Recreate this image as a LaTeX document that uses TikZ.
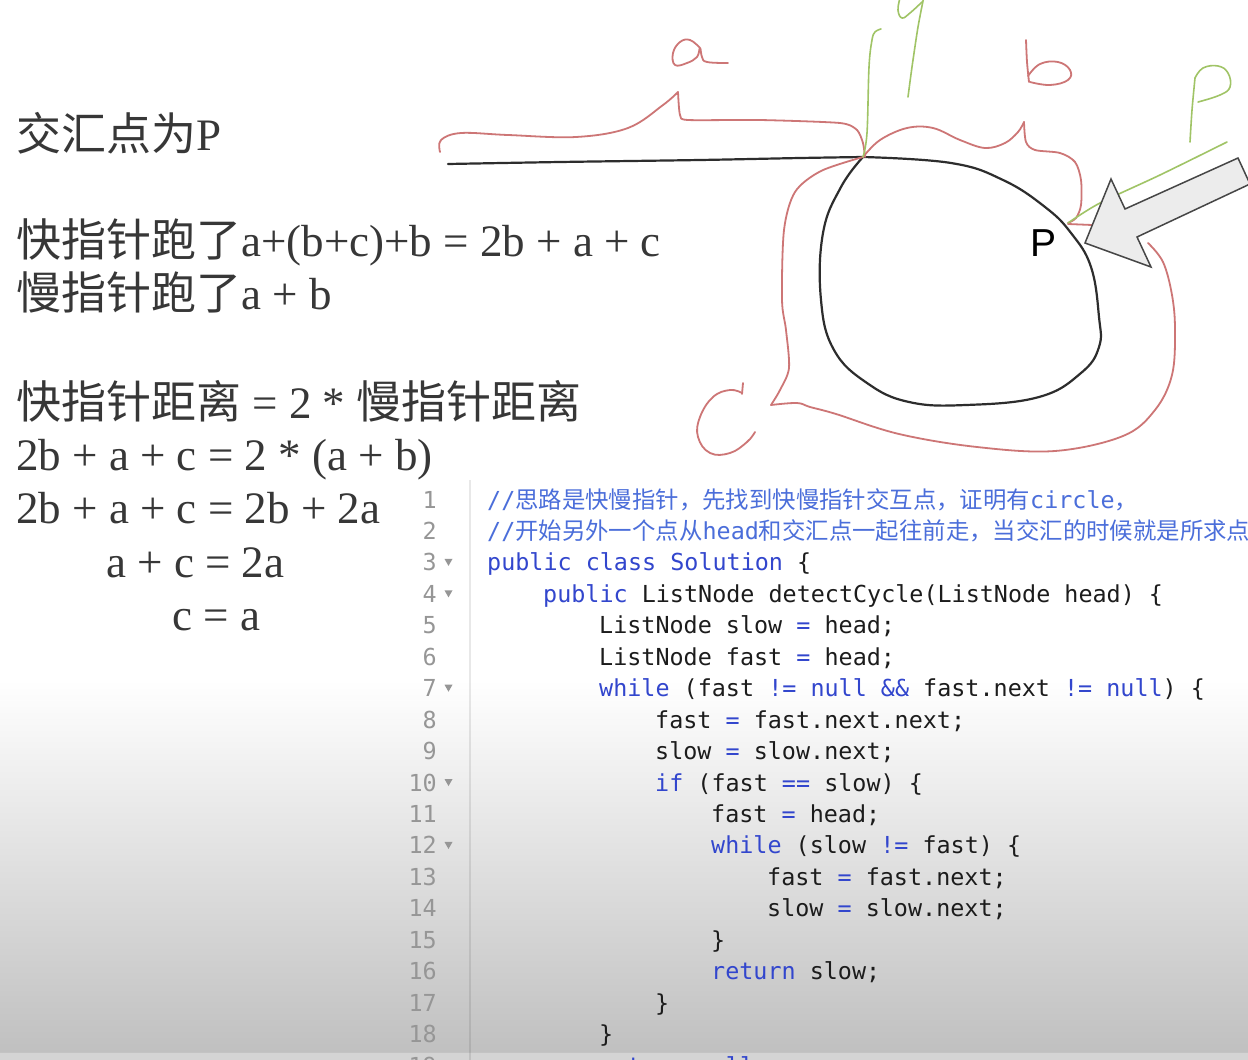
\documentclass[tikz,border=0pt]{standalone}
\usepackage{fontspec}
\setmainfont{Liberation Serif}
\newfontfamily\cjk{Noto Sans CJK SC}
\newfontfamily\codef{DejaVu Sans Mono}
\newfontfamily\sansf{Liberation Sans}
\definecolor{penred}{RGB}{205,118,118}
\definecolor{pengreen}{RGB}{160,196,102}
\definecolor{penblack}{RGB}{45,45,45}
\definecolor{arrowfill}{RGB}{236,236,236}
\definecolor{arrowdraw}{RGB}{70,70,70}
\definecolor{textgray}{RGB}{55,55,55}
\definecolor{codeblack}{RGB}{28,28,28}
\definecolor{kwblue}{RGB}{50,70,205}
\definecolor{cmtblue}{RGB}{75,110,218}
\definecolor{lngray}{RGB}{150,150,150}
\definecolor{bggray}{RGB}{192,192,192}
\definecolor{bandgray}{RGB}{212,212,212}
\newcommand{\kw}[1]{\textcolor{kwblue}{#1}}
\tikzset{
  redpen/.style={draw=penred, line width=1.8pt, line cap=round, line join=round},
  greenpen/.style={draw=pengreen, line width=1.6pt, line cap=round, line join=round},
  blackpen/.style={draw=penblack, line width=2.2pt, line cap=round, line join=round},
  lefttext/.style={anchor=base west, inner sep=0pt, text=textgray, font=\fontsize{45}{50}\selectfont},
  codeline/.style={anchor=base west, inner sep=0pt, text=codeblack, font=\codef\fontsize{23.4}{28}\selectfont},
  cmtline/.style={codeline, text=cmtblue},
  lnum/.style={anchor=base east, inner sep=0pt, text=lngray, font=\codef\fontsize{23.4}{28}\selectfont},
  fold/.style={fill=lngray, draw=none}
}
\begin{document}
\begin{tikzpicture}[x=1pt, y=-1pt]
\useasboundingbox (0,0) rectangle (1248,1060);
\clip (0,0) rectangle (1248,1060);
% background
\fill[white] (0,0) rectangle (1248,1060);
\shade[top color=white, bottom color=bggray, draw=none] (0,680) rectangle (1248,1052);
\fill[bandgray] (0,1052) rectangle (1248,1060);
\draw[black, opacity=0.08, line width=1pt] (0,1052) -- (1248,1052);
% gutter line
\draw[black, opacity=0.09, line width=1.5pt] (470,480) -- (470,1060);

% ---------- left text ----------
\node[lefttext] (t1) at (16,150) {{\cjk 交汇点为}P};
\node[lefttext] (t2) at (16,256) {{\cjk 快指针跑了}a+(b+c)+b = 2b + a + c};
\node[lefttext] (t3) at (16,309) {{\cjk 慢指针跑了}a + b};
\node[lefttext] (t4) at (16,418) {{\cjk 快指针距离} = 2 * {\cjk 慢指针距离}};
\node[lefttext] (t5) at (16,470) {2b + a + c = 2 * (a + b)};
\node[lefttext] (t6) at (16,523) {2b + a + c = 2b + 2a};
\node[lefttext] (t7) at (106,577) {a + c = 2a};
\node[lefttext] (t8) at (172,630) {c = a};

% ---------- hand drawing ----------
% black list line and loop
\draw[blackpen] plot[smooth] coordinates {(448,164) (560,162) (700,160) (800,158) (863,157)};
\draw[blackpen] plot[smooth, tension=0.7] coordinates {(863,157) (951,163) (1003,180) (1045,207) (1071,233) (1091,267) (1099,317) (1099,347) (1081,373) (1039,397) (966,405) (909,402) (867,383) (834,350) (821,300) (823,233) (841,187) (863,157)};
% red brace a
\draw[redpen] plot[smooth, tension=0.6] coordinates {(440,152) (441,140) (461,133) (508,135) (576,137) (628,128) (663,105) (678,92)};
\draw[redpen] plot[smooth, tension=0.4] coordinates {(678,92) (680,115) (688,120) (760,120) (840,123) (857,130) (863,143) (865,157)};
% red letter a
\draw[redpen] plot[smooth, tension=0.7] coordinates {(700,48) (690,40) (680,42) (673,53) (675,65) (687,63) (697,57) (700,48) (702,57) (707,62) (728,63)};
% red brace b
\draw[redpen] plot[smooth, tension=0.6] coordinates {(863,157) (880,140) (907,128) (933,128) (960,140) (985,148) (1005,143) (1018,132) (1024,122)};
\draw[redpen] plot[smooth, tension=0.5] coordinates {(1024,122) (1026,142) (1035,150) (1060,153) (1075,162) (1081,180) (1081,205) (1076,218) (1068,223)};
\draw[redpen] (1068,224) -- (1092,225);
% red letter b
\draw[redpen] plot[smooth] coordinates {(1026,40) (1027,62) (1029,82)};
\draw[redpen] plot[smooth, tension=0.7] coordinates {(1028,76) (1040,64) (1058,62) (1070,70) (1068,80) (1050,85) (1030,82)};
% red brace c
\draw[redpen] plot[smooth, tension=0.6] coordinates {(1148,243) (1163,262) (1172,295) (1175,330) (1172,375) (1155,410) (1123,436) (1055,451) (977,447) (899,434) (836,414) (810,407) (797,403) (771,405)};
\draw[redpen] plot[smooth, tension=0.5] coordinates {(771,405) (780,390) (789,368) (786,330) (782,300) (784,230) (795,192) (821,171) (863,157)};
% red letter C
\draw[redpen] (743,383) -- (742,394);
\draw[redpen] plot[smooth, tension=0.7] coordinates {(742,393) (730,390) (713,397) (700,417) (698,437) (710,453) (730,453) (747,442) (755,432)};
% green marks
\draw[greenpen] plot[smooth, tension=0.6] coordinates {(863,157) (867,133) (869,67) (872,40) (875,32) (881,29)};
\draw[greenpen] plot[smooth, tension=0.7] coordinates {(922,2) (910,13) (902,18) (898,10) (900,-2)};
\draw[greenpen] plot[smooth] coordinates {(924,-4) (918,27) (912,67) (908,97)};
\draw[greenpen] plot[smooth] coordinates {(1195,78) (1192,110) (1190,142)};
\draw[greenpen] plot[smooth, tension=0.7] coordinates {(1195,78) (1203,68) (1218,66) (1228,73) (1230,87) (1220,95) (1198,102)};
\draw[greenpen] plot[smooth] coordinates {(1068,223) (1100,203) (1160,175) (1227,142)};
% big arrow
\filldraw[fill=arrowfill, draw=arrowdraw, line width=1.5pt, line join=miter] (1085,243) -- (1111,179) -- (1125,209) -- (1238,158) -- (1250,184) -- (1137,237) -- (1151,267) -- cycle;
\node[anchor=base west, inner sep=0pt, font=\sansf\fontsize{39}{42}\selectfont] (plabel) at (1030,256) {P};

% ---------- code ----------
\node[lnum] (n1) at (437,508) {1};
\node[lnum] (n2) at (437,539.45) {2};
\node[lnum] (n3) at (437,570.9) {3};
\node[lnum] (n4) at (437,602.35) {4};
\node[lnum] (n5) at (437,633.8) {5};
\node[lnum] (n6) at (437,665.25) {6};
\node[lnum] (n7) at (437,696.7) {7};
\node[lnum] (n8) at (437,728.15) {8};
\node[lnum] (n9) at (437,759.6) {9};
\node[lnum] (n10) at (437,791.05) {10};
\node[lnum] (n11) at (437,822.5) {11};
\node[lnum] (n12) at (437,853.95) {12};
\node[lnum] (n13) at (437,885.4) {13};
\node[lnum] (n14) at (437,916.85) {14};
\node[lnum] (n15) at (437,948.3) {15};
\node[lnum] (n16) at (437,979.75) {16};
\node[lnum] (n17) at (437,1011.2) {17};
\node[lnum] (n18) at (437,1042.65) {18};
\node[lnum] (n19) at (437,1074.1) {19};
\foreach \yy in {570.9,602.35,696.7,791.05,853.95} {
  \fill[fold] (444.5,\yy-12) -- (452.5,\yy-12) -- (448.5,\yy-5) -- cycle;
}
\node[cmtline] (c1) at (487,508) {//{\cjk 思路是快慢指针，先找到快慢指针交互点，证明有}circle{\cjk ，}};
\node[cmtline] (c2) at (487,539.45) {//{\cjk 开始另外一个点从}head{\cjk 和交汇点一起往前走，当交汇的时候就是所求点}};
\node[codeline] (c3) at (487,570.9) {\kw{public class Solution} \{};
\node[codeline] (c4) at (543,602.35) {\kw{public} ListNode detectCycle(ListNode head) \{};
\node[codeline] (c5) at (599,633.8) {ListNode slow \kw{=} head;};
\node[codeline] (c6) at (599,665.25) {ListNode fast \kw{=} head;};
\node[codeline] (c7) at (599,696.7) {\kw{while} (fast \kw{!=} \kw{null} \kw{\&\&} fast.next \kw{!=} \kw{null}) \{};
\node[codeline] (c8) at (655,728.15) {fast \kw{=} fast.next.next;};
\node[codeline] (c9) at (655,759.6) {slow \kw{=} slow.next;};
\node[codeline] (c10) at (655,791.05) {\kw{if} (fast \kw{==} slow) \{};
\node[codeline] (c11) at (711,822.5) {fast \kw{=} head;};
\node[codeline] (c12) at (711,853.95) {\kw{while} (slow \kw{!=} fast) \{};
\node[codeline] (c13) at (767,885.4) {fast \kw{=} fast.next;};
\node[codeline] (c14) at (767,916.85) {slow \kw{=} slow.next;};
\node[codeline] (c15) at (711,948.3) {\}};
\node[codeline] (c16) at (711,979.75) {\kw{return} slow;};
\node[codeline] (c17) at (655,1011.2) {\}};
\node[codeline] (c18) at (599,1042.65) {\}};
\node[codeline] (c19) at (599,1074.1) {\kw{return} \kw{null};};
\end{tikzpicture}
\end{document}
